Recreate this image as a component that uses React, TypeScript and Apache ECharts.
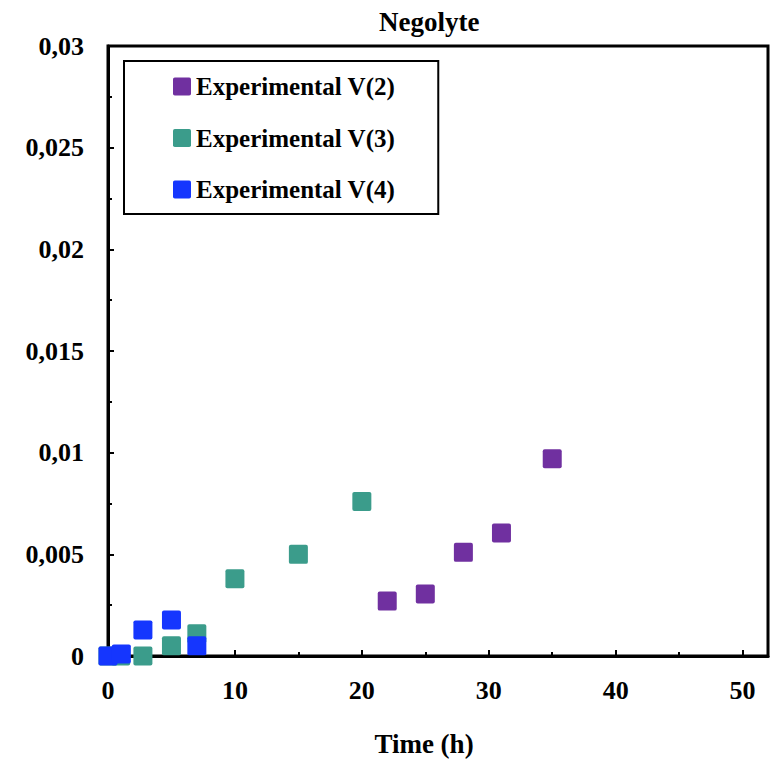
import React, { useEffect, useRef } from "react";
import * as echarts from "echarts";

const titleText = "Negolyte";
const xAxisName = "Time (h)";
const seriesNames = ["Experimental V(2)", "Experimental V(3)", "Experimental V(4)"];
const seriesColors = ["#7030A0", "#3B9C8B", "#1536FE"];

const v2Time = [22, 25, 28, 31, 35];
const v2Value = [0.0027, 0.00305, 0.0051, 0.00605, 0.0097];

const v3Time = [0, 1, 2.75, 5, 7, 10, 15, 20];
const v3Value = [0, 0, 0, 0.0005, 0.0011, 0.0038, 0.005, 0.0076];

const v4Time = [0, 1.05, 2.75, 5, 7];
const v4Value = [0, 0.0001, 0.00128, 0.00177, 0.0005];

const pairs = (xs: number[], ys: number[]) => xs.map((x, i) => [x, ys[i]]);

const FONT = "'Liberation Serif', 'Times New Roman', serif";
const SQUARE = "path://M2,0 H18 Q20,0 20,2 V18 Q20,20 18,20 H2 Q0,20 0,18 V2 Q0,0 2,0 Z";

export default function App() {
  const ref = useRef<HTMLDivElement>(null);
  useEffect(() => {
    if (!ref.current) return;
    const chart = echarts.init(ref.current, undefined, { renderer: "svg" });
    const textBase = { fontFamily: FONT, fontWeight: "bold" as const, color: "#000" };
    chart.setOption({
      animation: false,
      backgroundColor: "#fff",
      title: {
        text: titleText,
        left: 374,
        top: 3,
        textStyle: { ...textBase, fontSize: 27 },
      },
      legend: {
        orient: "vertical",
        left: 124,
        top: 61,
        padding: [13, 43, 12, 49],
        itemGap: 26.5,
        itemWidth: 18,
        itemHeight: 18,
        itemStyle: { borderWidth: 0, opacity: 1 },
        borderColor: "#000",
        borderWidth: 2,
        textStyle: { ...textBase, fontSize: 25, padding: [0, 0, 0, 0] },
        data: seriesNames.map((n) => ({ name: n, icon: SQUARE })),
      },
      grid: {
        left: 108,
        right: 11,
        top: 46,
        bottom: 106,
        show: true,
        borderColor: "#000",
        borderWidth: 3,
        containLabel: false,
      },
      xAxis: {
        type: "value",
        min: 0,
        max: 52,
        interval: 10,
        name: xAxisName,
        nameLocation: "middle",
        nameGap: 74,
        nameTextStyle: { ...textBase, fontSize: 27, padding: [0, 28, 0, 0] },
        axisLine: { show: true, lineStyle: { color: "#000", width: 3 } },
        axisTick: { show: true, inside: true, length: 6, lineStyle: { color: "#000", width: 2 } },
        minorTick: { show: true, splitNumber: 2, length: 4, lineStyle: { color: "#000", width: 2 } },
        splitLine: { show: false },
        axisLabel: {
          ...textBase,
          fontSize: 26,
          margin: 21,
          showMaxLabel: false,
          formatter: (v: number) => (v > 50 ? "" : String(v)),
        },
      },
      yAxis: {
        type: "value",
        min: 0,
        max: 0.03,
        interval: 0.005,
        axisLine: { show: true, lineStyle: { color: "#000", width: 3 } },
        axisTick: { show: true, inside: true, length: 6, lineStyle: { color: "#000", width: 2 } },
        minorTick: { show: true, splitNumber: 2, length: 4, lineStyle: { color: "#000", width: 2 } },
        splitLine: { show: false },
        axisLabel: {
          ...textBase,
          fontSize: 26,
          margin: 24,
          formatter: (v: number) => String(parseFloat(v.toFixed(4))).replace(".", ","),
        },
      },
      series: [
        { name: seriesNames[0], data: pairs(v2Time, v2Value) },
        { name: seriesNames[1], data: pairs(v3Time, v3Value) },
        { name: seriesNames[2], data: pairs(v4Time, v4Value) },
      ].map((s, i) => ({
        ...s,
        type: "scatter",
        symbol: SQUARE,
        symbolSize: 19,
        clip: false,
        itemStyle: { color: seriesColors[i], opacity: 1 },
        emphasis: { disabled: true },
        z: 3 + i,
      })),
    });
    return () => chart.dispose();
  }, []);
  return (
    <div
      ref={ref}
      style={{ position: "fixed", left: 0, top: 0, width: 779, height: 762, background: "#fff" }}
    />
  );
}
